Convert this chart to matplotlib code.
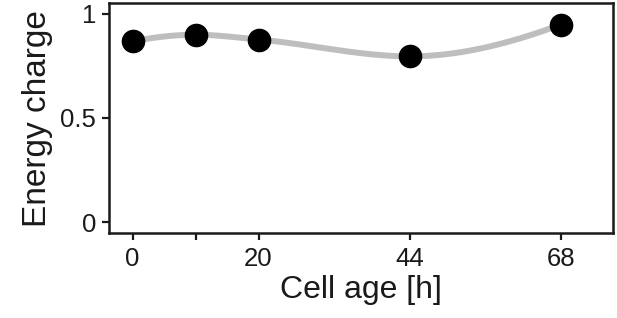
import numpy as np
import matplotlib
matplotlib.use("Agg")
import matplotlib.pyplot as plt

plt.rcParams['font.family'] = ['Liberation Sans', 'DejaVu Sans']

cell_age = [0, 10, 20, 44, 68]
energy_charge = [0.868, 0.900, 0.877, 0.796, 0.949]
x_ticks = [0, 10, 20, 44, 68]
x_tick_labels = ["0", "", "20", "44", "68"]
y_ticks = [0, 0.5, 1]
y_tick_labels = ["0", "0.5", "1"]


def pchip(x, y, xs):
    x = np.asarray(x, float)
    y = np.asarray(y, float)
    h = np.diff(x)
    d = np.diff(y) / h
    n = len(x)
    m = np.zeros(n)
    for k in range(1, n - 1):
        if d[k - 1] * d[k] <= 0:
            m[k] = 0.0
        else:
            w1 = 2 * h[k] + h[k - 1]
            w2 = h[k] + 2 * h[k - 1]
            m[k] = (w1 + w2) / (w1 / d[k - 1] + w2 / d[k])

    def end(h0, h1, d0, d1):
        v = ((2 * h0 + h1) * d0 - h0 * d1) / (h0 + h1)
        if np.sign(v) != np.sign(d0):
            v = 0.0
        elif np.sign(d0) != np.sign(d1) and abs(v) > abs(3 * d0):
            v = 3 * d0
        return v

    m[0] = end(h[0], h[1], d[0], d[1])
    m[-1] = end(h[-1], h[-2], d[-1], d[-2])
    out = np.empty_like(xs)
    for i, xv in enumerate(xs):
        k = min(np.searchsorted(x, xv, side='right') - 1, n - 2)
        k = max(k, 0)
        t = (xv - x[k]) / h[k]
        h00 = 2 * t**3 - 3 * t**2 + 1
        h10 = t**3 - 2 * t**2 + t
        h01 = -2 * t**3 + 3 * t**2
        h11 = t**3 - t**2
        out[i] = h00 * y[k] + h10 * h[k] * m[k] + h01 * y[k + 1] + h11 * h[k] * m[k + 1]
    return out


fig = plt.figure(figsize=(6.17, 3.18), dpi=100)
ax = fig.add_axes([0.176, 0.267, 0.818, 0.722])

xs = np.linspace(min(cell_age), max(cell_age), 400)
ax.plot(xs, pchip(cell_age, energy_charge, xs), color='#bebebe', lw=4.3,
        solid_capstyle='round', zorder=2)
ax.plot(cell_age, energy_charge, 'o', color='black', ms=16, zorder=3)

ax.set_xlim(-3.8, 76.3)
ax.set_ylim(-0.053, 1.05)
ax.set_xticks(x_ticks)
ax.set_xticklabels(x_tick_labels)
ax.set_yticks(y_ticks)
ax.set_yticklabels(y_tick_labels)

for s in ax.spines.values():
    s.set_linewidth(1.8)
    s.set_color('#1a1a1a')
ax.tick_params(axis='both', length=5, width=1.6, color='#1a1a1a',
               labelsize=18.5, labelcolor='#1a1a1a')
ax.tick_params(axis='x', pad=5)
ax.tick_params(axis='y', pad=4)

ax.set_xlabel("Cell age [h]", fontsize=23, color='#1a1a1a', labelpad=3)
ax.set_ylabel("Energy charge", fontsize=24, color='#1a1a1a', labelpad=5)

fig.savefig("out.png", dpi=100)
